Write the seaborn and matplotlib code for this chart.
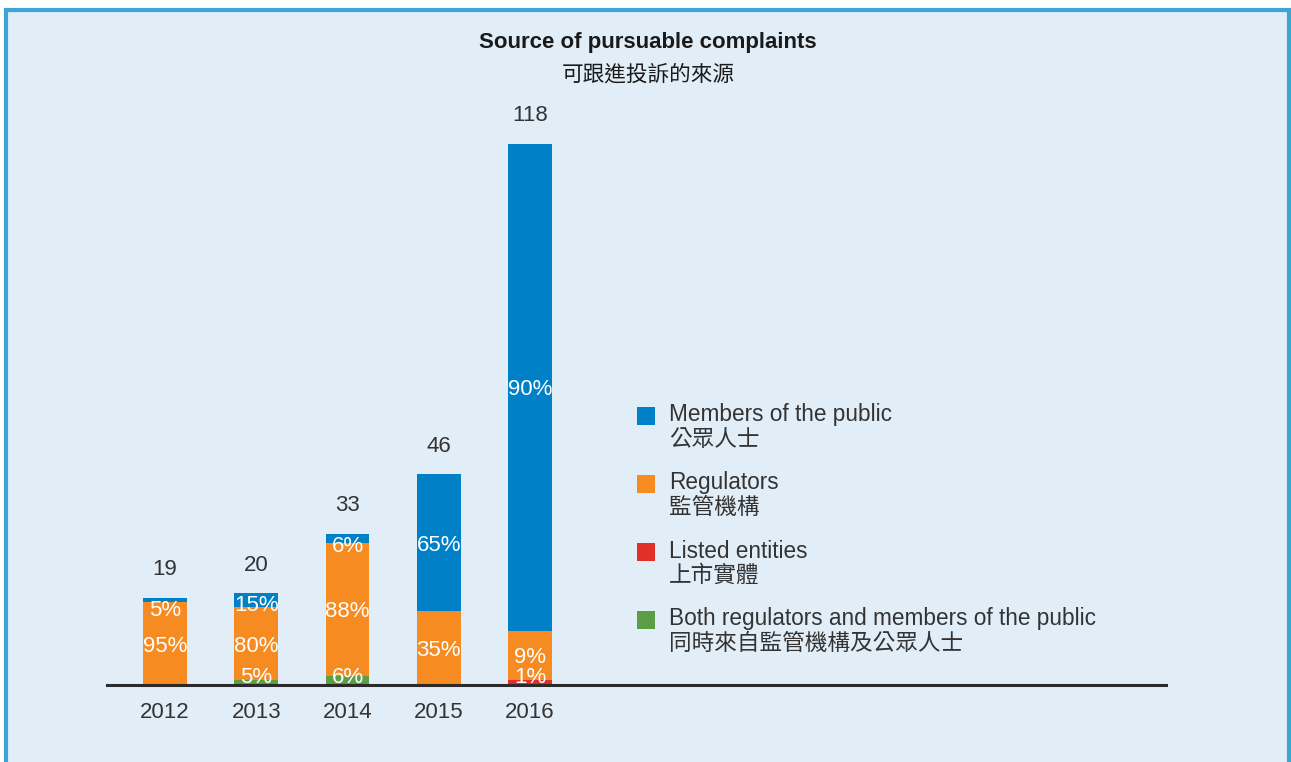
import matplotlib
matplotlib.use("Agg")
import matplotlib.pyplot as plt
from matplotlib.patches import Rectangle
import seaborn as sns
import pandas as pd
import numpy as np

# ---- data ----
years = ["2012", "2013", "2014", "2015", "2016"]
totals = [19, 20, 33, 46, 118]
pct_both = [0, 5, 6, 0, 0]          # Both regulators and members of the public
pct_listed = [0, 0, 0, 0, 1]        # Listed entities
pct_regulators = [95, 80, 88, 35, 9]
pct_public = [5, 15, 6, 65, 90]

series_en = ["Members of the public", "Regulators", "Listed entities",
             "Both regulators and members of the public"]
series_zh = ["公眾人士", "監管機構", "上市實體", "同時來自監管機構及公眾人士"]
title_en = "Source of pursuable complaints"
title_zh = "可跟進投訴的來源"

# ---- style ----
BG = "#E1EEF8"
BORDER = "#3DA5D6"
C_PUBLIC = "#0080C6"
C_REG = "#F68B22"
C_LISTED = "#E03028"
C_BOTH = "#5C9E45"
TXT = "#333333"
FONTS = ["Liberation Sans", "Noto Sans CJK TC", "DejaVu Sans"]

sns.set_theme(style="white")
plt.rcParams["font.family"] = FONTS

W, H = 1291, 762
fig = plt.figure(figsize=(W / 100, H / 100), dpi=100)
fig.patch.set_facecolor("white")
# panel background with border (extends below bottom edge)
fig.patches.append(Rectangle((5.5 / W, -0.02), (1289 - 5.5) / W, (H - 9.5) / H + 0.02,
                             transform=fig.transFigure, facecolor=BG,
                             edgecolor=BORDER, linewidth=3, zorder=-5))

ax_left, ax_right = 107, 1166
ax_base, ax_top = 685, 100
ax = fig.add_axes([ax_left / W, (H - ax_base) / H, (ax_right - ax_left) / W,
                   (ax_base - ax_top) / H])
ax.set_facecolor("none")
ax.set_zorder(1)

tot = np.array(totals, dtype=float)
seg = {
    "both": tot * np.array(pct_both) / 100,
    "listed": tot * np.array(pct_listed) / 100,
    "reg": tot * np.array(pct_regulators) / 100,
    "public": tot * np.array(pct_public) / 100,
}
order = ["both", "listed", "reg", "public"]
colors = {"both": C_BOTH, "listed": C_LISTED, "reg": C_REG, "public": C_PUBLIC}
pcts = {"both": pct_both, "listed": pct_listed, "reg": pct_regulators,
        "public": pct_public}

cum = np.zeros(len(years))
bottoms = {}
for k in order:
    bottoms[k] = cum.copy()
    cum = cum + seg[k]

# draw cumulative bars, tallest first (stacked appearance)
bar_w = 0.482
for i in range(len(order) - 1, -1, -1):
    k = order[i]
    top = bottoms[k] + seg[k]
    df = pd.DataFrame({"year": years, "v": top})
    sns.barplot(data=df, x="year", y="v", color=colors[k], width=bar_w,
                saturation=1, ax=ax, linewidth=0, zorder=2)

# percentage labels
xs = np.arange(len(years))
min_h = 4.4
for k in order:
    for j in range(len(years)):
        p = pcts[k][j]
        if p <= 0:
            continue
        b = bottoms[k][j]
        h = seg[k][j]
        t = b + h
        y = b + h / 2
        if h < min_h:
            if t >= tot[j] - 1e-9 and b > 1:
                y = t - min_h / 2
            else:
                y = b + min_h / 2
        ax.text(xs[j], y, f"{p}%", ha="center", va="center_baseline",
                color="white", fontsize=16, zorder=5)

# totals
for j in range(len(years)):
    ax.annotate(str(totals[j]), (xs[j], tot[j]), xytext=(0, 22),
                textcoords="offset points", ha="center", va="center_baseline",
                color=TXT, fontsize=16)

spacing = 91.25
x0 = (ax_left - 165) / spacing
x1 = (ax_right - 165) / spacing
ax.set_xlim(x0, x1)
ax.set_ylim(0, (ax_base - ax_top) / 4.585)
sns.despine(ax=ax, left=True, top=True, right=True)
ax.spines["bottom"].set_color("#2B2B2B")
ax.spines["bottom"].set_linewidth(2.2)
ax.spines["bottom"].set_zorder(6)
ax.set_yticks([])
ax.set_xlabel("")
ax.set_ylabel("")
ax.tick_params(axis="x", length=0, pad=12, labelsize=16, colors=TXT)

# titles
fig.text(648 / W, 1 - 40 / H, title_en, ha="center", va="center_baseline",
         fontsize=16, fontweight="bold", color="#1A1A1A")
fig.text(648 / W, 1 - 73 / H, title_zh, ha="center", va="center_baseline",
         fontsize=15.6, color="#1A1A1A")

# legend
leg_colors = [C_PUBLIC, C_REG, C_LISTED, C_BOTH]
for i in range(4):
    yc = 416 + 68 * i
    fig.patches.append(Rectangle((637 / W, 1 - (yc + 9) / H), 18 / W, 18 / H,
                                 transform=fig.transFigure,
                                 facecolor=leg_colors[i], edgecolor="none"))
    fig.text(669 / W, 1 - (yc - 1) / H, series_en[i], ha="left", va="center",
             fontsize=16.3, color=TXT)
    fig.text(669 / W, 1 - (yc + 23) / H, series_zh[i], ha="left", va="center",
             fontsize=16.3, color=TXT)

fig.savefig("out.png", dpi=100, facecolor=fig.get_facecolor())
